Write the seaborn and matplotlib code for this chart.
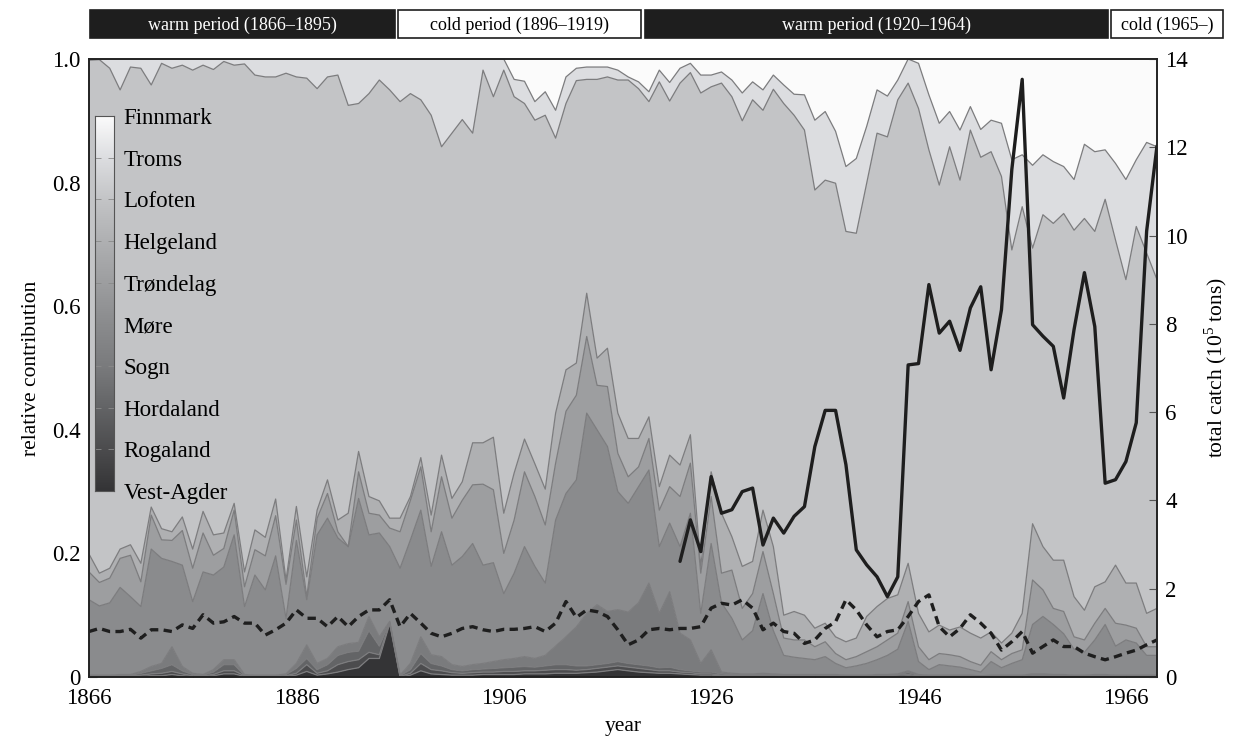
import numpy as np
import matplotlib
matplotlib.use("Agg")
import matplotlib.pyplot as plt
import seaborn as sns
from matplotlib.colors import LinearSegmentedColormap
from matplotlib.patches import Rectangle

# ---------------- data ----------------
years = list(range(1866, 1970))
regions = ["Vest-Agder", "Rogaland", "Hordaland", "Sogn", "Møre",
           "Trøndelag", "Helgeland", "Lofoten", "Troms", "Finnmark"]

# cumulative upper boundary of each region (relative contribution, stacked from the bottom)
vest_agder_top = [
    0.000, 0.000, 0.000, 0.001, 0.001, 0.001, 0.002, 0.002, 0.004, 0.002,
    0.001, 0.001, 0.002, 0.005, 0.005, 0.001, 0.000, 0.000, 0.000, 0.001,
    0.003, 0.009, 0.003, 0.005, 0.008, 0.012, 0.015, 0.030, 0.030, 0.086,
    0.000, 0.003, 0.010, 0.005, 0.004, 0.003, 0.003, 0.003, 0.004, 0.004,
    0.004, 0.004, 0.005, 0.005, 0.005, 0.006, 0.006, 0.006, 0.007, 0.008,
    0.010, 0.012, 0.010, 0.008, 0.007, 0.006, 0.006, 0.005, 0.004, 0.003,
    0.003, 0.002, 0.002, 0.002, 0.002, 0.002, 0.002, 0.001, 0.001, 0.001,
    0.001, 0.001, 0.001, 0.001, 0.001, 0.001, 0.001, 0.001, 0.001, 0.002,
    0.001, 0.001, 0.001, 0.001, 0.001, 0.001, 0.001, 0.001, 0.001, 0.001,
    0.001, 0.001, 0.001, 0.001, 0.001, 0.001, 0.001, 0.001, 0.001, 0.001,
    0.001, 0.001, 0.001, 0.001]
rogaland_top = [
    0.001, 0.001, 0.001, 0.002, 0.002, 0.003, 0.005, 0.006, 0.009, 0.005,
    0.002, 0.002, 0.004, 0.010, 0.010, 0.002, 0.001, 0.001, 0.001, 0.002,
    0.006, 0.020, 0.006, 0.010, 0.020, 0.025, 0.028, 0.040, 0.036, 0.088,
    0.001, 0.006, 0.022, 0.012, 0.010, 0.007, 0.006, 0.007, 0.008, 0.008,
    0.009, 0.009, 0.010, 0.010, 0.011, 0.012, 0.012, 0.011, 0.012, 0.014,
    0.016, 0.018, 0.016, 0.014, 0.012, 0.010, 0.010, 0.008, 0.007, 0.005,
    0.005, 0.003, 0.003, 0.003, 0.003, 0.003, 0.003, 0.002, 0.002, 0.002,
    0.002, 0.002, 0.002, 0.001, 0.001, 0.001, 0.002, 0.002, 0.003, 0.004,
    0.002, 0.001, 0.001, 0.001, 0.001, 0.001, 0.001, 0.001, 0.001, 0.001,
    0.001, 0.002, 0.002, 0.002, 0.002, 0.001, 0.001, 0.002, 0.002, 0.001,
    0.001, 0.001, 0.001, 0.001]
hordaland_top = [
    0.002, 0.002, 0.002, 0.003, 0.003, 0.006, 0.010, 0.014, 0.020, 0.010,
    0.004, 0.003, 0.008, 0.020, 0.020, 0.003, 0.002, 0.002, 0.002, 0.004,
    0.014, 0.030, 0.012, 0.020, 0.035, 0.040, 0.042, 0.075, 0.050, 0.089,
    0.002, 0.012, 0.038, 0.022, 0.018, 0.012, 0.010, 0.012, 0.013, 0.014,
    0.015, 0.016, 0.017, 0.016, 0.018, 0.020, 0.020, 0.018, 0.018, 0.020,
    0.022, 0.025, 0.022, 0.020, 0.018, 0.015, 0.016, 0.012, 0.010, 0.008,
    0.008, 0.005, 0.004, 0.004, 0.004, 0.004, 0.004, 0.003, 0.003, 0.003,
    0.003, 0.003, 0.003, 0.002, 0.002, 0.002, 0.003, 0.003, 0.004, 0.007,
    0.003, 0.002, 0.002, 0.002, 0.002, 0.002, 0.002, 0.002, 0.002, 0.002,
    0.002, 0.004, 0.004, 0.003, 0.003, 0.002, 0.002, 0.003, 0.003, 0.002,
    0.002, 0.002, 0.002, 0.002]
sogn_top = [
    0.003, 0.003, 0.003, 0.004, 0.004, 0.009, 0.017, 0.022, 0.049, 0.017,
    0.006, 0.004, 0.012, 0.028, 0.028, 0.004, 0.003, 0.003, 0.003, 0.005,
    0.022, 0.052, 0.022, 0.030, 0.049, 0.054, 0.056, 0.098, 0.065, 0.090,
    0.003, 0.022, 0.065, 0.036, 0.033, 0.020, 0.017, 0.020, 0.022, 0.025,
    0.028, 0.030, 0.033, 0.030, 0.035, 0.050, 0.065, 0.081, 0.103, 0.117,
    0.106, 0.109, 0.105, 0.120, 0.152, 0.103, 0.138, 0.071, 0.060, 0.022,
    0.044, 0.008, 0.006, 0.005, 0.005, 0.006, 0.005, 0.004, 0.004, 0.004,
    0.004, 0.004, 0.004, 0.003, 0.003, 0.003, 0.004, 0.004, 0.005, 0.010,
    0.004, 0.003, 0.003, 0.003, 0.003, 0.003, 0.002, 0.003, 0.003, 0.003,
    0.003, 0.005, 0.005, 0.004, 0.004, 0.003, 0.003, 0.004, 0.004, 0.003,
    0.003, 0.003, 0.003, 0.003]
more_top = [
    0.125, 0.115, 0.120, 0.145, 0.130, 0.114, 0.207, 0.192, 0.187, 0.181,
    0.122, 0.170, 0.165, 0.178, 0.230, 0.114, 0.165, 0.141, 0.196, 0.095,
    0.221, 0.125, 0.230, 0.257, 0.225, 0.211, 0.289, 0.230, 0.233, 0.211,
    0.176, 0.222, 0.270, 0.179, 0.235, 0.181, 0.195, 0.216, 0.181, 0.185,
    0.135, 0.168, 0.211, 0.179, 0.152, 0.254, 0.297, 0.319, 0.427, 0.400,
    0.373, 0.300, 0.281, 0.308, 0.335, 0.211, 0.249, 0.211, 0.265, 0.103,
    0.216, 0.120, 0.095, 0.060, 0.075, 0.135, 0.075, 0.035, 0.032, 0.030,
    0.028, 0.033, 0.022, 0.015, 0.018, 0.022, 0.028, 0.035, 0.045, 0.090,
    0.025, 0.012, 0.020, 0.018, 0.016, 0.012, 0.008, 0.025, 0.015, 0.022,
    0.028, 0.085, 0.098, 0.085, 0.070, 0.045, 0.040, 0.060, 0.085, 0.050,
    0.060, 0.055, 0.035, 0.035]
trondelag_top = [
    0.170, 0.153, 0.160, 0.192, 0.197, 0.154, 0.262, 0.222, 0.221, 0.237,
    0.176, 0.233, 0.197, 0.208, 0.270, 0.146, 0.206, 0.196, 0.261, 0.150,
    0.254, 0.130, 0.257, 0.297, 0.235, 0.211, 0.332, 0.265, 0.262, 0.241,
    0.235, 0.286, 0.340, 0.235, 0.324, 0.257, 0.286, 0.311, 0.312, 0.303,
    0.200, 0.254, 0.332, 0.292, 0.246, 0.346, 0.430, 0.456, 0.551, 0.472,
    0.470, 0.362, 0.324, 0.340, 0.386, 0.270, 0.308, 0.292, 0.346, 0.168,
    0.292, 0.168, 0.173, 0.111, 0.135, 0.203, 0.135, 0.063, 0.060, 0.060,
    0.049, 0.057, 0.038, 0.028, 0.033, 0.041, 0.049, 0.060, 0.071, 0.122,
    0.049, 0.028, 0.038, 0.036, 0.033, 0.025, 0.019, 0.041, 0.028, 0.038,
    0.044, 0.157, 0.141, 0.111, 0.106, 0.065, 0.060, 0.087, 0.111, 0.087,
    0.084, 0.079, 0.049, 0.049]
helgeland_top = [
    0.199, 0.168, 0.176, 0.207, 0.214, 0.184, 0.275, 0.240, 0.235, 0.259,
    0.207, 0.268, 0.230, 0.233, 0.281, 0.170, 0.238, 0.226, 0.288, 0.157,
    0.276, 0.162, 0.270, 0.319, 0.254, 0.265, 0.365, 0.292, 0.285, 0.257,
    0.257, 0.292, 0.355, 0.262, 0.359, 0.289, 0.316, 0.379, 0.379, 0.388,
    0.265, 0.330, 0.385, 0.345, 0.304, 0.427, 0.497, 0.508, 0.621, 0.516,
    0.532, 0.427, 0.386, 0.386, 0.421, 0.308, 0.359, 0.343, 0.392, 0.179,
    0.332, 0.265, 0.227, 0.179, 0.187, 0.270, 0.211, 0.100, 0.106, 0.100,
    0.079, 0.087, 0.065, 0.057, 0.063, 0.098, 0.114, 0.127, 0.133, 0.184,
    0.103, 0.073, 0.084, 0.076, 0.081, 0.071, 0.063, 0.073, 0.055, 0.071,
    0.103, 0.248, 0.211, 0.189, 0.189, 0.130, 0.108, 0.146, 0.154, 0.181,
    0.152, 0.152, 0.103, 0.111]
lofoten_top = [
    0.998, 0.999, 0.985, 0.950, 0.987, 0.985, 0.958, 0.993, 0.985, 0.990,
    0.982, 0.990, 0.983, 0.996, 0.990, 0.992, 0.974, 0.971, 0.971, 0.977,
    0.971, 0.969, 0.952, 0.971, 0.974, 0.925, 0.928, 0.944, 0.966, 0.950,
    0.931, 0.944, 0.934, 0.909, 0.858, 0.880, 0.902, 0.880, 0.982, 0.939,
    0.982, 0.939, 0.928, 0.901, 0.909, 0.872, 0.928, 0.965, 0.967, 0.967,
    0.971, 0.966, 0.966, 0.952, 0.931, 0.963, 0.932, 0.961, 0.978, 0.945,
    0.955, 0.961, 0.939, 0.900, 0.934, 0.917, 0.951, 0.928, 0.909, 0.885,
    0.788, 0.804, 0.799, 0.721, 0.718, 0.799, 0.880, 0.874, 0.934, 0.961,
    0.920, 0.853, 0.796, 0.858, 0.804, 0.885, 0.841, 0.850, 0.810, 0.691,
    0.761, 0.694, 0.748, 0.734, 0.750, 0.723, 0.742, 0.721, 0.773, 0.707,
    0.643, 0.729, 0.686, 0.643]
troms_top = [
    1.000, 1.000, 1.000, 1.000, 1.000, 1.000, 1.000, 1.000, 1.000, 1.000,
    1.000, 1.000, 1.000, 1.000, 1.000, 1.000, 1.000, 1.000, 1.000, 1.000,
    1.000, 1.000, 1.000, 1.000, 1.000, 1.000, 1.000, 1.000, 1.000, 1.000,
    1.000, 1.000, 1.000, 1.000, 1.000, 1.000, 1.000, 1.000, 1.000, 1.000,
    1.000, 0.967, 0.964, 0.931, 0.947, 0.917, 0.971, 0.985, 0.987, 0.987,
    0.987, 0.982, 0.971, 0.963, 0.947, 0.982, 0.962, 0.985, 0.993, 0.974,
    0.974, 0.979, 0.966, 0.945, 0.963, 0.950, 0.974, 0.958, 0.943, 0.942,
    0.901, 0.915, 0.883, 0.826, 0.839, 0.891, 0.950, 0.940, 0.966, 1.000,
    0.993, 0.942, 0.896, 0.915, 0.885, 0.923, 0.886, 0.901, 0.896, 0.837,
    0.845, 0.828, 0.845, 0.834, 0.826, 0.805, 0.862, 0.850, 0.853, 0.831,
    0.805, 0.837, 0.865, 0.858]
finnmark_top = [1.0] * len(years)

# right axis: catch series (10^5 tons)
dashed_catch = [
    1.03, 1.10, 1.03, 1.03, 1.08, 0.88, 1.07, 1.07, 1.03, 1.18,
    1.10, 1.41, 1.22, 1.25, 1.37, 1.22, 1.22, 0.95, 1.07, 1.22,
    1.52, 1.33, 1.33, 1.14, 1.37, 1.14, 1.37, 1.52, 1.52, 1.75,
    1.14, 1.44, 1.22, 0.99, 0.91, 0.99, 1.10, 1.14, 1.07, 1.03,
    1.08, 1.08, 1.10, 1.14, 1.03, 1.22, 1.71, 1.35, 1.52, 1.48,
    1.37, 1.07, 0.73, 0.84, 1.07, 1.10, 1.07, 1.10, 1.10, 1.14,
    1.56, 1.67, 1.63, 1.75, 1.56, 1.07, 1.22, 1.03, 0.99, 0.76,
    0.84, 1.10, 1.25, 1.75, 1.52, 1.18, 0.91, 1.03, 1.07, 1.37,
    1.71, 1.86, 1.14, 0.91, 1.10, 1.41, 1.22, 0.99, 0.61, 0.80,
    1.03, 0.54, 0.69, 0.84, 0.69, 0.69, 0.54, 0.46, 0.39, 0.46,
    0.54, 0.61, 0.73, 0.84]
catch_years = list(range(1923, 1970))
total_catch = [
    2.62, 3.56, 2.84, 4.54, 3.71, 3.79, 4.20, 4.28, 2.99, 3.60,
    3.26, 3.64, 3.86, 5.22, 6.04, 6.04, 4.81, 2.88, 2.54, 2.27,
    1.82, 2.27, 7.07, 7.10, 8.89, 7.79, 8.06, 7.40, 8.36, 8.84,
    6.96, 8.32, 11.50, 13.54, 7.98, 7.72, 7.49, 6.32, 7.87, 9.16,
    7.94, 4.39, 4.47, 4.88, 5.76, 10.10, 12.03]

periods = ["warm period (1866\u20131895)", "cold period (1896\u20131919)",
           "warm period (1920\u20131964)", "cold (1965\u2013)"]
period_start = [1866.1, 1895.8, 1919.6, 1964.6]
period_end = [1895.5, 1919.25, 1964.3, 1975.4]
period_warm = [True, False, True, False]

region_colors = ["#343436", "#4c4c4e", "#636466", "#7a7b7d", "#8a8b8d",
                 "#9d9ea0", "#afb0b2", "#c3c4c6", "#dcdde0", "#fbfbfb"]

# ---------------- style ----------------
sns.set_theme(style="ticks")
plt.rcParams["font.family"] = ["Liberation Serif", "DejaVu Serif"]
plt.rcParams["text.color"] = "black"
plt.rcParams["axes.labelcolor"] = "black"
plt.rcParams["xtick.color"] = "black"
plt.rcParams["ytick.color"] = "black"
plt.rcParams["mathtext.fontset"] = "custom"
plt.rcParams["mathtext.rm"] = "Liberation Serif"

W, H = 1234, 745
fig = plt.figure(figsize=(W / 100, H / 100), dpi=100)
L, R, T, B = 89, 1157, 59, 677
ax = fig.add_axes([L / W, 1 - B / H, (R - L) / W, (B - T) / H])

tops = [vest_agder_top, rogaland_top, hordaland_top, sogn_top, more_top,
        trondelag_top, helgeland_top, lofoten_top, troms_top, finnmark_top]
lower = np.zeros(len(years))
for name, top, col in zip(regions, tops, region_colors):
    top = np.asarray(top)
    ax.fill_between(years, lower, top, facecolor=col, edgecolor="none", lw=0, zorder=1)
    lower = top
for top in tops[:-1]:
    ax.plot(years, top, color="#7c7c7e", lw=0.9, zorder=2)

ax.set_xlim(1866, 1969)
ax.set_ylim(0, 1.0)
ax.set_xticks(range(1866, 1970, 20))
ax.set_xticks(range(1876, 1970, 20), minor=True)
ax.set_yticks([0, 0.2, 0.4, 0.6, 0.8, 1.0])
ax.set_yticklabels(["0", "0.2", "0.4", "0.6", "0.8", "1.0"])
ax.tick_params(axis="both", which="both", direction="in", length=6, width=0.8,
               color="#555555", labelsize=16.5, top=True, pad=6)
ax.tick_params(axis="x", which="major", pad=8)
ax.set_xlabel("year", fontsize=15.5, labelpad=6)
ax.set_ylabel("relative contribution", fontsize=15.5, labelpad=8)
for s in ax.spines.values():
    s.set_color("#222222")
    s.set_linewidth(1.2)

# right axis with catches
ax2 = ax.twinx()
sns.lineplot(x=years, y=dashed_catch, ax=ax2, color="#1e1e1e", lw=2.4)
ax2.lines[-1].set_linestyle((0, (2.5, 1.6)))
sns.lineplot(x=catch_years, y=total_catch, ax=ax2, color="#1e1e1e", lw=2.4)
ax2.set_ylim(0, 14)
ax2.set_yticks(range(0, 15, 2))
ax2.tick_params(axis="y", direction="in", length=6, width=0.8, color="#555555",
                labelsize=16.5, pad=6)
ax2.set_ylabel("total catch (10$^{5}$ tons)", fontsize=15.5, labelpad=10)
for s in ax2.spines.values():
    s.set_color("#222222")
    s.set_linewidth(1.2)

# period strip on top
sx = fig.add_axes([L / W, 1 - 38 / H, (R - L) / W, 28 / H])
sx.set_xlim(1866, 1969)
sx.set_ylim(0, 1)
sx.axis("off")
for label, a, b, warm in zip(periods, period_start, period_end, period_warm):
    sx.add_patch(Rectangle((a, 0), b - a, 1, facecolor="#1e1e1e" if warm else "white",
                           edgecolor="#1e1e1e", lw=1.2, clip_on=False))
    sx.text((a + b) / 2, 0.45, label, ha="center", va="center", fontsize=13,
            color="white" if warm else "black", clip_on=False)

# gradient legend
cax = fig.add_axes([95 / W, 1 - 491 / H, 19 / W, (491 - 116) / H])
cmap = LinearSegmentedColormap.from_list("regions", region_colors)
cax.imshow(np.linspace(0, 1, 256).reshape(-1, 1), aspect="auto", cmap=cmap,
           origin="lower", extent=[0, 1, 0, 9])
cax.set_xlim(0, 1)
cax.set_ylim(0, 9)
cax.set_xticks([])
cax.set_yticks(range(10))
cax.set_yticklabels(regions)
cax.tick_params(axis="y", left=True, right=True, labelleft=False, labelright=True,
                direction="in", length=4, width=0.6, color="#8a8a8a", labelsize=16.5, pad=7)
for s in cax.spines.values():
    s.set_color("#555555")
    s.set_linewidth(0.8)

fig.savefig("out.png", dpi=100)
